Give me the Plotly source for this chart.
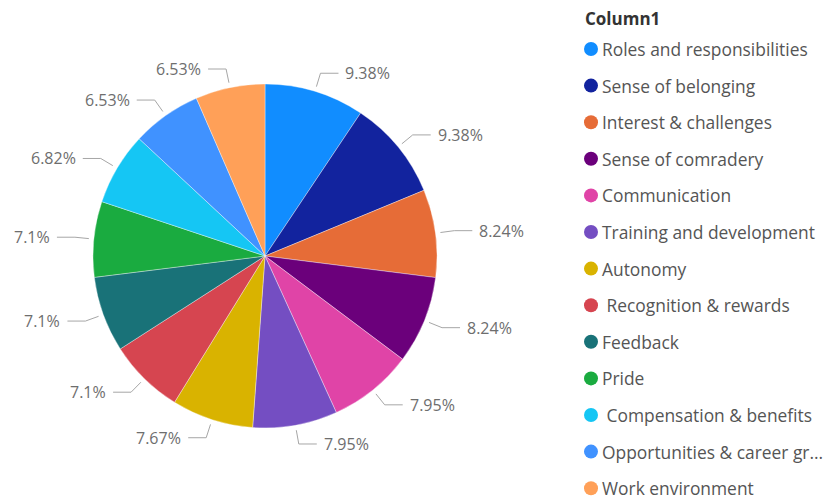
import math
import plotly.graph_objects as go

# Survey themes and their share of responses (%)
categories = [
    "Roles and responsibilities",
    "Sense of belonging",
    "Interest & challenges",
    "Sense of comradery",
    "Communication",
    "Training and development",
    "Autonomy",
    " Recognition & rewards",
    "Feedback",
    "Pride",
    " Compensation & benefits",
    "Opportunities & career gr...",
    "Work environment",
]
shares = [9.38, 9.38, 8.24, 8.24, 7.95, 7.95, 7.67, 7.1, 7.1, 7.1, 6.82, 6.53, 6.53]
colors = [
    "#118DFF", "#12239E", "#E66C37", "#6B007B", "#E044A7", "#744EC2", "#D9B300",
    "#D64550", "#197278", "#1AAB40", "#15C6F4", "#4092FF", "#FFA058",
]
legend_title = "Column1"

W, H = 838, 503
CX, CY, R = 265, 256, 172          # pie centre and radius in pixels
FONT = "Open Sans"


def px(x):
    return x / W


def py(y):
    return 1 - y / H


fig = go.Figure(
    go.Pie(
        labels=categories,
        values=shares,
        sort=False,
        direction="clockwise",
        rotation=0,
        marker=dict(colors=colors, line=dict(color="rgba(255,255,255,0.6)", width=0.6)),
        textinfo="none",
        hoverinfo="label+percent",
        showlegend=False,
        domain=dict(x=[px(CX - R), px(CX + R)], y=[py(CY + R), py(CY - R)]),
    )
)

# Outside data labels with bent leader lines, placed at each slice's mid-angle
shapes = []
annotations = []
total = sum(shares)
cum = 0.0
R1, R2, HSEG, GAP = 177, 191, 18, 5
for v in shares:
    mid = (cum + v / 2) / total * 2 * math.pi
    cum += v
    sx, sy = math.sin(mid), -math.cos(mid)
    x1, y1 = CX + R1 * sx, CY + R1 * sy
    x2, y2 = CX + R2 * sx, CY + R2 * sy
    side = 1 if sx >= 0 else -1
    x3 = x2 + side * HSEG
    shapes.append(dict(
        type="path", xref="paper", yref="paper",
        path=f"M {px(x1)},{py(y1)} L {px(x2)},{py(y2)} L {px(x3)},{py(y2)}",
        line=dict(color="#A6A6A6", width=1),
    ))
    annotations.append(dict(
        text=f"{v:g}%", xref="paper", yref="paper",
        x=px(x3 + side * GAP), y=py(y2),
        xanchor="left" if side > 0 else "right", yanchor="middle",
        showarrow=False, font=dict(family=FONT, size=16, color="#6E6E6E"),
    ))

# Legend drawn as coloured dots with labels
LX, LY0, LSTEP, DOT = 591, 49, 36.6, 14
annotations.append(dict(
    text=f"<b>{legend_title}</b>", xref="paper", yref="paper",
    x=px(583), y=py(18), xanchor="left", yanchor="middle",
    showarrow=False, font=dict(family=FONT, size=17, color="#333333"),
))
for i, (name, c) in enumerate(zip(categories, colors)):
    yc = LY0 + i * LSTEP
    shapes.append(dict(
        type="circle", xref="paper", yref="paper",
        x0=px(LX - DOT / 2), x1=px(LX + DOT / 2),
        y0=py(yc + DOT / 2), y1=py(yc - DOT / 2),
        fillcolor=c, line=dict(width=0),
    ))
    annotations.append(dict(
        text=name.replace(" ", "\u00a0"), xref="paper", yref="paper",
        x=px(LX + DOT / 2 + 2), y=py(yc), xanchor="left", yanchor="middle",
        showarrow=False, font=dict(family=FONT, size=17.4, color="#555555"),
    ))

fig.update_layout(
    width=W, height=H, autosize=False,
    margin=dict(l=0, r=0, t=0, b=0),
    paper_bgcolor="white", plot_bgcolor="white",
    shapes=shapes, annotations=annotations,
)

fig.write_html("out.html")
